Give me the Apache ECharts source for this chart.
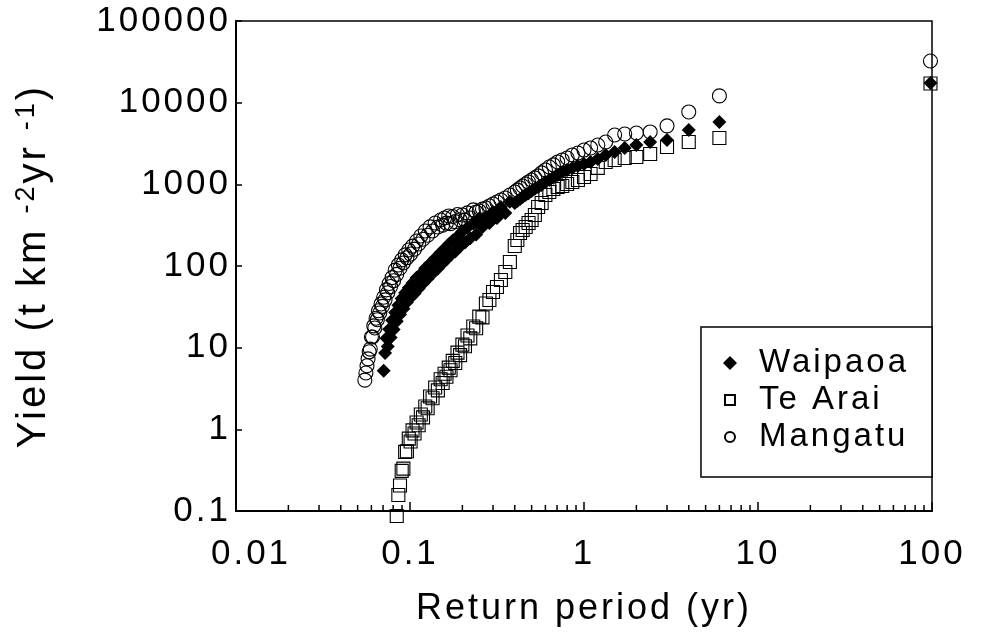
<!DOCTYPE html>
<html>
<head>
<meta charset="utf-8">
<script src="https://cdn.jsdelivr.net/npm/echarts/dist/echarts.min.js"></script>
<style>
html,body{margin:0;padding:0;background:#fff;}
#chart{width:981px;height:642px;}
</style>
</head>
<body>
<div id="chart"></div>
<script>
// ---- text tracking (the reference uses widely spaced lettering) ----
(function () {
  var LS = '3px';
  var P = window.CanvasRenderingContext2D && CanvasRenderingContext2D.prototype;
  if (!P || !('letterSpacing' in P)) return;
  var ft = P.fillText, st = P.strokeText, mt = P.measureText;
  P.fillText = function () { this.letterSpacing = LS; return ft.apply(this, arguments); };
  P.strokeText = function () { this.letterSpacing = LS; return st.apply(this, arguments); };
  P.measureText = function () { this.letterSpacing = LS; return mt.apply(this, arguments); };
})();

// ---------------- DATA ----------------
// Return period (yr) of each ranked event
const returnPeriod = [
  98, 6, 4, 3, 2.4, 2, 1.714, 1.5, 1.333, 1.2,
  1.091, 1, 0.923, 0.857, 0.8, 0.75, 0.706, 0.667, 0.632, 0.6,
  0.571, 0.545, 0.522, 0.5, 0.48, 0.462, 0.444, 0.429, 0.414, 0.4,
  0.375, 0.353, 0.333, 0.316, 0.3, 0.286, 0.273, 0.261, 0.25, 0.24,
  0.231, 0.222, 0.214, 0.207, 0.2, 0.194, 0.1875, 0.182, 0.176, 0.171,
  0.167, 0.162, 0.158, 0.154, 0.15, 0.1446, 0.1395, 0.1348, 0.1304, 0.1263,
  0.1224, 0.1188, 0.1154, 0.1121, 0.1091, 0.1062, 0.1034, 0.1008, 0.0984, 0.096,
  0.0938, 0.0916, 0.0896, 0.0876, 0.0857, 0.0839, 0.0822, 0.0805, 0.0789, 0.0774,
  0.0759, 0.0745, 0.0732, 0.0719, 0.0706, 0.0694, 0.0682, 0.067, 0.0659, 0.0649,
  0.0638, 0.0628, 0.0619, 0.0609, 0.06, 0.0591, 0.0583, 0.0574, 0.0566, 0.0558,
  0.055
];

// Yield (t km-2 yr-1), same order as returnPeriod
const waipaoaYield = [
  17400, 5800, 4630, 3490, 3300, 3030, 2790, 2490, 2290, 2040,
  1880, 1770, 1680, 1590, 1500, 1420, 1300, 1200, 1130, 1070,
  980, 930, 880, 830, 780, 740, 700, 660, 625, 590,
  610, 446, 529, 387, 459, 336, 399, 300, 382, 243,
  331, 218, 296, 194, 264, 173, 229, 151, 205, 135,
  184, 120, 163, 108, 146, 93, 124, 81, 107, 70,
  94, 61, 80, 53, 72, 46, 62, 41, 54, 36,
  47, 30, 40, 25.5, 33, 21, 27, 16.7, 21.6, 13.3,
  16.8, 10.3, 13, 8.6, 5.2
];

const teAraiYield = [
  17200, 3690, 3300, 2870, 2350, 2160, 2100, 1990, 1880, 1590,
  1340, 1230, 1130, 1070, 1010, 954, 928, 877, 806, 740,
  591, 528, 421, 366, 336, 300, 276, 254, 208, 176,
  112, 84.5, 67.4, 55.3, 48, 38.4, 34.7, 23.5, 24, 17.3,
  18.2, 13, 14.1, 10.4, 10.9, 8.1, 8.7, 6.5, 6.9, 5.3,
  5.7, 4.4, 4.8, 3.7, 4.1, 3, 3.25, 2.4, 2.52, 1.81,
  1.9, 1.4, 1.52, 1.12, 1.21, 0.89, 0.97, 0.71, 0.77, 0.54,
  0.53, 0.33, 0.31, 0.205, 0.157, 0.087
];

const mangatuYield = [
  32400, 12100, 7700, 5200, 4380, 4250, 4130, 4020, 3300, 3030,
  2790, 2630, 2420, 2290, 2100, 1990, 1880, 1730, 1630, 1500,
  1380, 1270, 1200, 1130, 1070, 1010, 955, 900, 850, 805,
  740, 680, 643, 608, 574, 543, 513, 499, 472, 459,
  486, 387, 447, 365, 422, 369, 427, 349, 404, 330,
  410, 335, 387, 317, 366, 300, 336, 268, 301, 238,
  268, 213, 233, 186, 202, 161, 175, 140, 157, 126,
  137, 109, 119, 94, 103, 79, 89, 66, 72, 56,
  61, 47, 51, 38.5, 41.4, 32, 34.3, 26.6, 28.3, 22,
  22.9, 17.4, 18.5, 13.5, 13.5, 9.6, 8.9, 7.3, 6, 4.9,
  4.0
];

const seriesNames = ['Waipaoa', 'Te Arai', 'Mangatu'];
const xTickLabels = ['0.01', '0.1', '1', '10', '100'];
const yTickLabels = ['0.1', '1', '10', '100', '1000', '10000', '100000'];
const xMinorTicks = [
  0.02, 0.03, 0.04, 0.05, 0.06, 0.07, 0.08, 0.09,
  0.2, 0.3, 0.4, 0.5, 0.6, 0.7, 0.8, 0.9,
  2, 3, 4, 5, 6, 7, 8, 9,
  20, 30, 40, 50, 60, 70, 80, 90
];
const xTitle = 'Return period (yr)';
const yTitle = 'Yield (t km {s|-2}yr {s|-1})';

// ---------------- CHART ----------------
const FONT = '"Liberation Sans", Arial, Helvetica, sans-serif';
function pairs(ys) { return ys.map(function (y, i) { return [returnPeriod[i], y]; }); }

const chart = echarts.init(document.getElementById('chart'), null, { renderer: 'canvas' });

const hollow = { color: 'rgba(0,0,0,0)', borderColor: '#000', borderWidth: 1.1, opacity: 1 };
const solid = { color: '#000', opacity: 1 };

const option = {
  animation: false,
  backgroundColor: '#fff',
  textStyle: { fontFamily: FONT, color: '#000' },
  grid: {
    left: 236, right: 49, top: 21, bottom: 131,
    show: true, borderColor: '#000', borderWidth: 1.5, backgroundColor: 'rgba(0,0,0,0)'
  },
  xAxis: {
    type: 'log', logBase: 10, min: 0.01, max: 100,
    name: xTitle, nameLocation: 'middle', nameGap: 79,
    nameTextStyle: { fontSize: 36, color: '#000', fontFamily: FONT },
    axisLine: { onZero: false, lineStyle: { color: '#000', width: 2 } },
    axisTick: { inside: true, length: 9, lineStyle: { color: '#000', width: 1.5 } },
    axisLabel: {
      fontSize: 35, color: '#000', fontFamily: FONT, margin: 24,
      formatter: function (v) {
        var i = Math.round(Math.log10(v)) + 2;
        return i === 0 ? '{first|' + xTickLabels[0] + '}' : xTickLabels[i];
      },
      rich: { first: { fontSize: 35, color: '#000', fontFamily: FONT, padding: [0, 0, 0, 30] } }
    },
    splitLine: { show: false }
  },
  yAxis: {
    type: 'log', logBase: 10, min: 0.1, max: 100000,
    name: yTitle, nameLocation: 'middle', nameGap: 181, nameRotate: 90,
    nameTextStyle: {
      fontSize: 40, color: '#000', fontFamily: FONT,
      rich: { s: { fontSize: 27, color: '#000', fontFamily: FONT, verticalAlign: 'top' } }
    },
    axisLine: { onZero: false, lineStyle: { color: '#000', width: 2 } },
    axisTick: { inside: true, length: 6, lineStyle: { color: '#000', width: 1.5 } },
    axisLabel: {
      fontSize: 35, color: '#000', fontFamily: FONT, margin: 5,
      formatter: function (v) { return yTickLabels[Math.round(Math.log10(v)) + 1]; }
    },
    splitLine: { show: false }
  },
  legend: {
    data: [
      { name: seriesNames[0], icon: 'path://M0 0M31 14M7 0L14 7L7 14L0 7Z' },
      { name: seriesNames[1], icon: 'path://M0 0M31 14M2 2H12V12H2Z' },
      { name: seriesNames[2], icon: 'path://M0 0M31 14M12 7A5 5 0 1 1 2 7A5 5 0 1 1 12 7Z' }
    ],
    orient: 'vertical', right: 49, top: 327,
    itemWidth: 31, itemHeight: 14, itemGap: 1,
    padding: [18, 23, 22, 21],
    backgroundColor: '#fff', borderColor: '#000', borderWidth: 1.5, borderRadius: 0,
    textStyle: { fontSize: 33, color: '#000', fontFamily: FONT },
    selectedMode: false
  },
  series: [
    {
      name: 'minor ticks', type: 'scatter', silent: true, clip: false, z: 1,
      symbol: 'rect', symbolSize: [1.5, 6], symbolOffset: [0, -3],
      itemStyle: solid,
      data: xMinorTicks.map(function (v) { return [v, 0.1]; })
    },
    {
      name: seriesNames[1], type: 'scatter', clip: false, z: 2,
      symbol: 'rect', symbolSize: 13, itemStyle: hollow,
      data: pairs(teAraiYield)
    },
    {
      name: seriesNames[0], type: 'scatter', clip: false, z: 3,
      symbol: 'diamond', symbolSize: 14, itemStyle: solid,
      data: pairs(waipaoaYield)
    },
    {
      name: seriesNames[2], type: 'scatter', clip: false, z: 4,
      symbol: 'circle', symbolSize: 14, itemStyle: hollow,
      data: pairs(mangatuYield)
    }
  ]
};
chart.setOption(option);
</script>
</body>
</html>
